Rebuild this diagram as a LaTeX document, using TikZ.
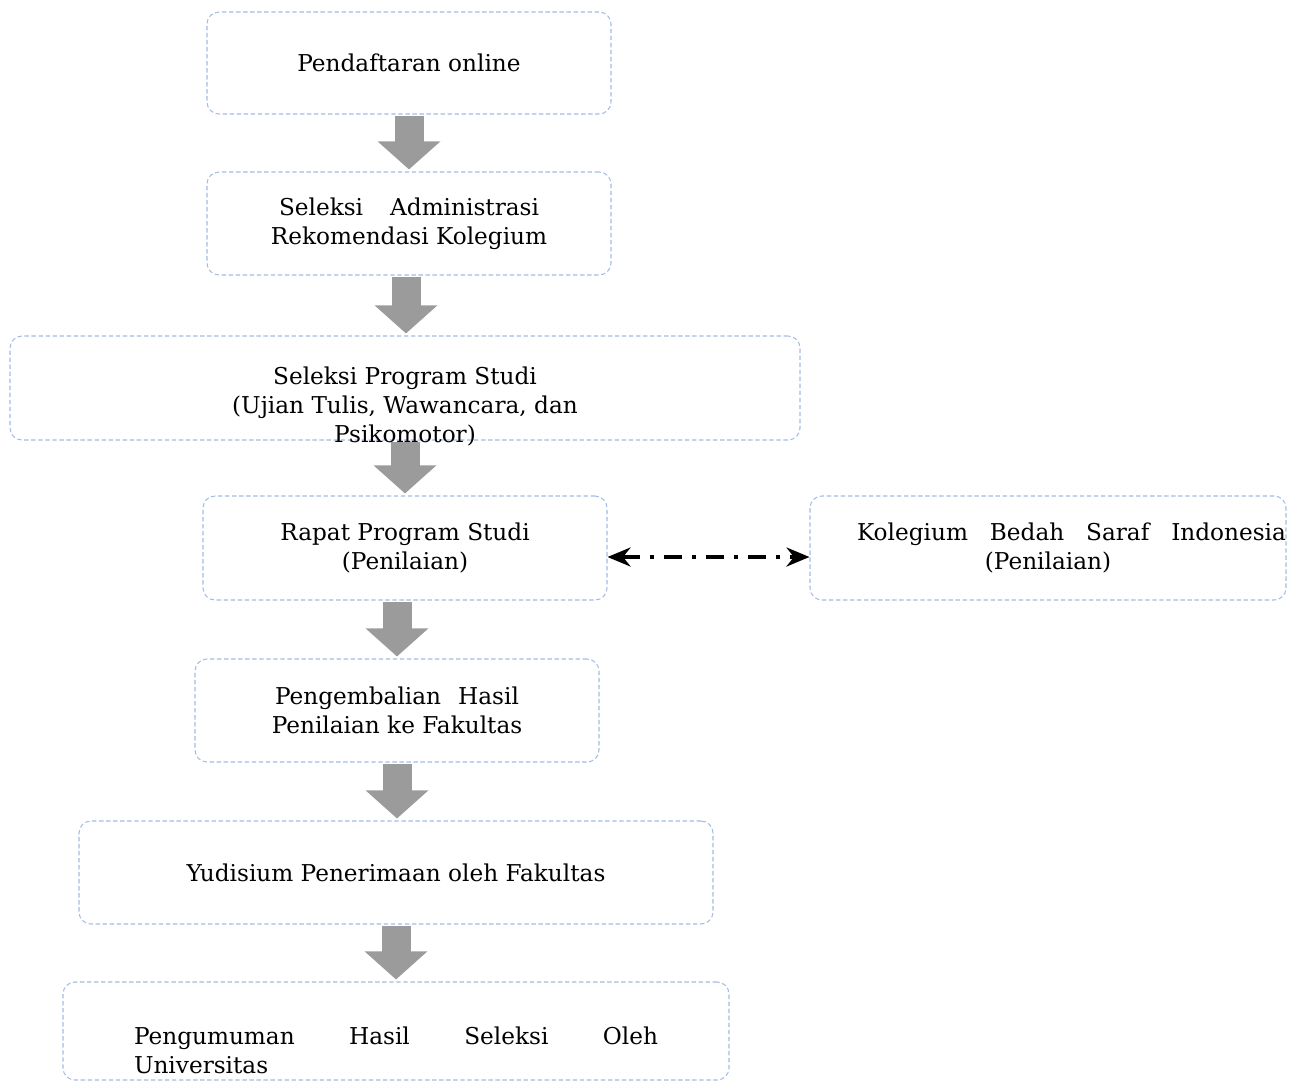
\documentclass[tikz,border=0pt]{standalone}
\usepackage{fontspec}
\setmainfont{DejaVu Serif}
\usepackage{xcolor}
\usetikzlibrary{arrows.meta,positioning}
\definecolor{boxblue}{RGB}{165,188,228}
\definecolor{arrowgray}{RGB}{155,155,155}

\tikzset{
    flowbox/.style={draw=boxblue, dashed, dash pattern=on 2.5pt off 1.5pt, line width=0.6pt,
        rounded corners=0.24cm, align=center, inner sep=0pt,
        font=\fontsize{13.2}{16.5}\selectfont},
    flowtext/.style={align=center, font=\fontsize{13.2}{16.5}\selectfont},
    blockarrow/.style={draw=arrowgray, line width=0.58cm,
        -{Triangle[width=1.22cm,length=0.56cm]}, shorten <=0.02cm, shorten >=0.04cm},
    dotarrow/.style={line width=2.1pt, dash pattern=on 0.36cm off 0.2cm on 0.08cm off 0.2cm,
        {Stealth[length=0.46cm,width=0.38cm]}-{Stealth[length=0.46cm,width=0.38cm]}}
}

\begin{document}
\begin{tikzpicture}
    \useasboundingbox (0,0) rectangle (26.04,-21.64);
    % Alur seleksi
    \node[flowbox, minimum width=8.08cm, minimum height=2.04cm] (b1) at (8.18,-1.26) {Pendaftaran online};
    \node[flowbox, minimum width=8.08cm, minimum height=2.06cm] (b2) at (8.18,-4.47)
        {\makebox[5.2cm][s]{Seleksi Administrasi}\\Rekomendasi Kolegium};
    \node[flowbox, minimum width=15.8cm, minimum height=2.08cm] (b3) at (8.10,-7.76) {};
    \node[flowtext] (t3) at ([yshift=-0.36cm]b3.center)
        {Seleksi Program Studi\\(Ujian Tulis, Wawancara, dan\\Psikomotor)};
    \node[flowbox, minimum width=8.08cm, minimum height=2.08cm] (b4) at (8.10,-10.96)
        {Rapat Program Studi\\(Penilaian)};
    \node[flowbox, minimum width=9.52cm, minimum height=2.08cm] (b5) at (20.96,-10.96)
        {\hspace*{0.94cm}\makebox[8.58cm][s]{Kolegium Bedah Saraf Indonesia}\\(Penilaian)};
    \node[flowbox, minimum width=8.08cm, minimum height=2.06cm] (b6) at (7.94,-14.21)
        {\makebox[4.88cm][s]{Pengembalian Hasil}\\Penilaian ke Fakultas};
    \node[flowbox, minimum width=12.68cm, minimum height=2.06cm] (b7) at (7.92,-17.45)
        {Yudisium Penerimaan oleh Fakultas};
    \node[flowbox, minimum width=13.32cm, minimum height=1.96cm] (b8) at (7.92,-20.62) {};
    \node[flowtext, align=left] (t8) at ([yshift=-0.38cm]b8.center)
        {\makebox[10.48cm][s]{Pengumuman Hasil Seleksi Oleh}\\Universitas};

    % Panah abu-abu
    \draw[blockarrow] (b1.south) -- (b2.north);
    \draw[blockarrow] ([xshift=-0.06cm]b2.south) -- ([xshift=-0.06cm]b2.south |- b3.north);
    \draw[blockarrow] (b3.south) -- (b4.north);
    \draw[blockarrow] (b4.south -| b6.north) -- (b6.north);
    \draw[blockarrow] (b6.south) -- (b6.south |- b7.north);
    \draw[blockarrow] (b7.south) -- (b8.north);

    % Penilaian kolegium
    \draw[dotarrow] ([yshift=-0.18cm]b4.east) -- ([yshift=-0.18cm]b5.west);
\end{tikzpicture}
\end{document}
